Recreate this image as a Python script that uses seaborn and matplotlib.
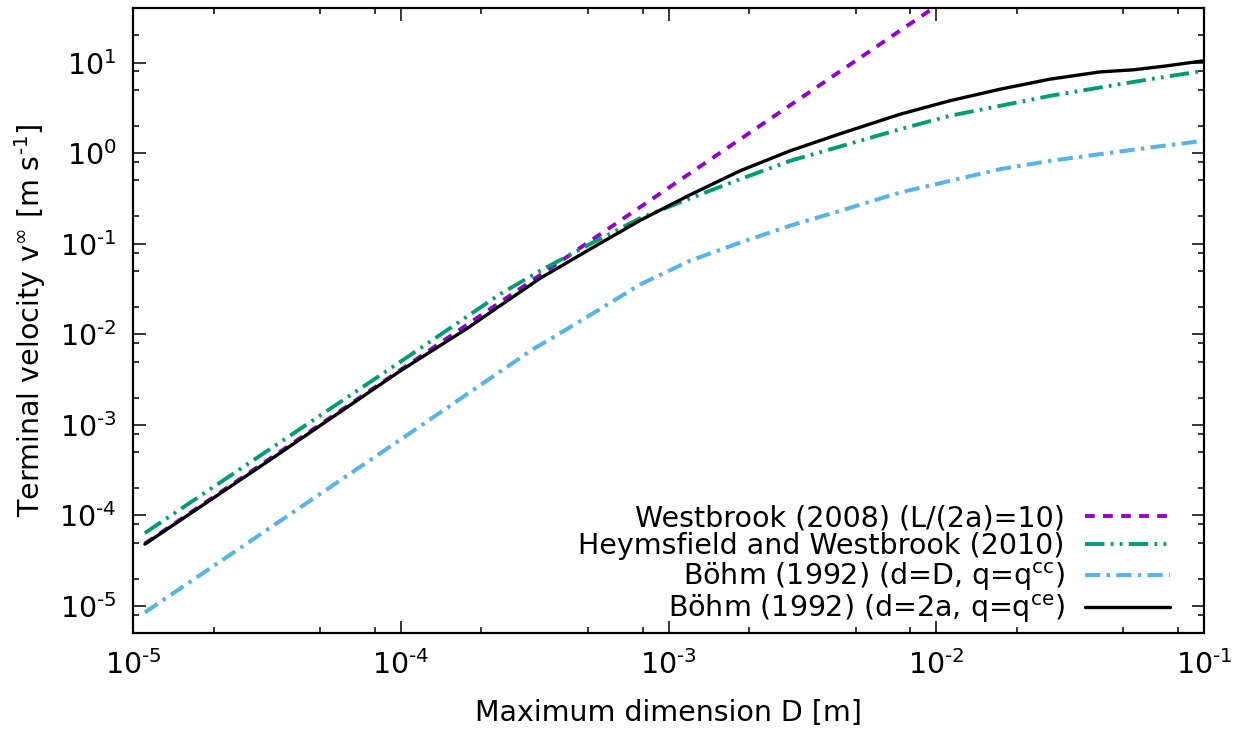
import numpy as np
import pandas as pd
import seaborn as sns
import matplotlib
matplotlib.use('Agg')
import matplotlib.pyplot as plt
from matplotlib.ticker import LogLocator, FuncFormatter, NullFormatter

# values (D in m, v in m/s)
westbrook_D = [1.107e-5, 1.0e-4, 1.0e-3, 1.0e-2]
westbrook_v = [4.90e-5, 4.07e-3, 0.414, 42.1]

heymsfield_D = [1.107e-5, 3.16e-5, 1.0e-4, 2.35e-4, 3.31e-4, 5.09e-4, 7.83e-4, 1.20e-3,
                1.85e-3, 2.84e-3, 4.25e-3, 7.33e-3, 1.12e-2, 1.73e-2, 2.66e-2, 4.09e-2,
                6.30e-2, 9.93e-2]
heymsfield_v = [6.40e-5, 5.13e-4, 5.01e-3, 2.78e-2, 5.02e-2, 9.91e-2, 0.191, 0.316,
                0.516, 0.822, 1.156, 1.84, 2.58, 3.33, 4.29, 5.31,
                6.56, 8.09]

bohm_cc_D = [1.107e-5, 3.16e-5, 1.0e-4, 3.12e-4, 4.17e-4, 5.55e-4, 7.83e-4, 1.20e-3,
             1.85e-3, 2.84e-3, 4.38e-3, 7.33e-3, 1.73e-2, 2.66e-2, 4.09e-2, 6.30e-2, 9.93e-2]
bohm_cc_v = [8.51e-6, 6.92e-5, 6.92e-4, 6.87e-3, 1.14e-2, 1.90e-2, 3.55e-2, 6.47e-2,
             0.103, 0.158, 0.231, 0.368, 0.665, 0.822, 0.975, 1.156, 1.368]

bohm_ce_D = [1.107e-5, 3.16e-5, 1.0e-4, 1.76e-4, 2.35e-4, 3.31e-4, 5.09e-4, 7.83e-4,
             1.20e-3, 1.85e-3, 2.84e-3, 4.38e-3, 7.33e-3, 1.12e-2, 1.73e-2, 2.66e-2,
             4.09e-2, 5.45e-2, 7.26e-2, 9.93e-2]
bohm_ce_v = [4.83e-5, 3.89e-4, 3.98e-3, 1.15e-2, 2.07e-2, 4.14e-2, 8.71e-2, 0.181,
             0.345, 0.638, 1.059, 1.64, 2.69, 3.78, 5.08, 6.56,
             7.89, 8.32, 9.20, 10.45]

labels = ['Westbrook (2008) (L/(2a)=10)',
          'Heymsfield and Westbrook (2010)',
          r'Böhm (1992) (d=D, q=q$^{\text{cc}}$)',
          r'Böhm (1992) (d=2a, q=q$^{\text{ce}}$)']

sns.set_theme(style='ticks')
plt.rcParams['font.family'] = ['DejaVu Sans']
plt.rcParams['mathtext.fontset'] = 'dejavusans'
plt.rcParams['lines.scale_dashes'] = False
plt.rcParams['text.color'] = 'black'
plt.rcParams['axes.labelcolor'] = 'black'
plt.rcParams['xtick.color'] = 'black'
plt.rcParams['ytick.color'] = 'black'

fs = 20.5

fig, ax = plt.subplots(figsize=(12.47, 7.32), dpi=100)
fig.subplots_adjust(left=0.1067, right=0.9655, bottom=0.1348, top=0.989)

series = [
    (westbrook_D, westbrook_v, '#9400D3', 2.8, (7, 6)),
    (heymsfield_D, heymsfield_v, '#009E73', 2.8, (14, 4.5, 2, 4.5, 2, 4.5)),
    (bohm_cc_D, bohm_cc_v, '#56B4E9', 2.9, (11, 4.5, 2.5, 4.5)),
    (bohm_ce_D, bohm_ce_v, 'black', 2.4, None),
]

for (D, v, col, lw, dash), lab in zip(series, labels):
    df = pd.DataFrame({'D': D, 'v': v})
    sns.lineplot(data=df, x='D', y='v', ax=ax, color=col, lw=lw, label=lab,
                 estimator=None, sort=False)
    line = ax.lines[-1]
    line.set_dash_capstyle('butt')
    line.set_solid_joinstyle('round')
    if dash is not None:
        line.set_dashes(dash)

ax.set_xscale('log')
ax.set_yscale('log')
ax.set_xlim(1e-5, 1e-1)
ax.set_ylim(5e-6, 40)


def pow_fmt(val, pos):
    e = int(round(np.log10(val)))
    return '10$^{\\text{' + str(e) + '}}$'


for axis in (ax.xaxis, ax.yaxis):
    axis.set_major_locator(LogLocator(base=10, numticks=20))
    axis.set_minor_locator(LogLocator(base=10, subs=[2, 5, 8], numticks=20))
    axis.set_major_formatter(FuncFormatter(pow_fmt))
    axis.set_minor_formatter(NullFormatter())

ax.tick_params(which='both', direction='in', top=True, right=True, bottom=True, left=True,
               width=1.1, labelsize=fs)
ax.tick_params(which='major', length=9, pad=12)
ax.tick_params(which='minor', length=4.5)
for s in ax.spines.values():
    s.set_linewidth(1.6)
    s.set_color('black')

ax.set_xlabel('Maximum dimension D [m]', fontsize=fs, labelpad=14)
ax.set_ylabel(r'Terminal velocity v$^{\infty}$ [m s$^{\text{-1}}$]', fontsize=fs, labelpad=8)

ax.legend(loc='lower right', bbox_to_anchor=(0.979, -0.005), borderaxespad=0,
          frameon=False, markerfirst=False, fontsize=fs, handlelength=3.0,
          handletextpad=0.7, labelspacing=0.0)

plt.savefig('out.png', dpi=100)
